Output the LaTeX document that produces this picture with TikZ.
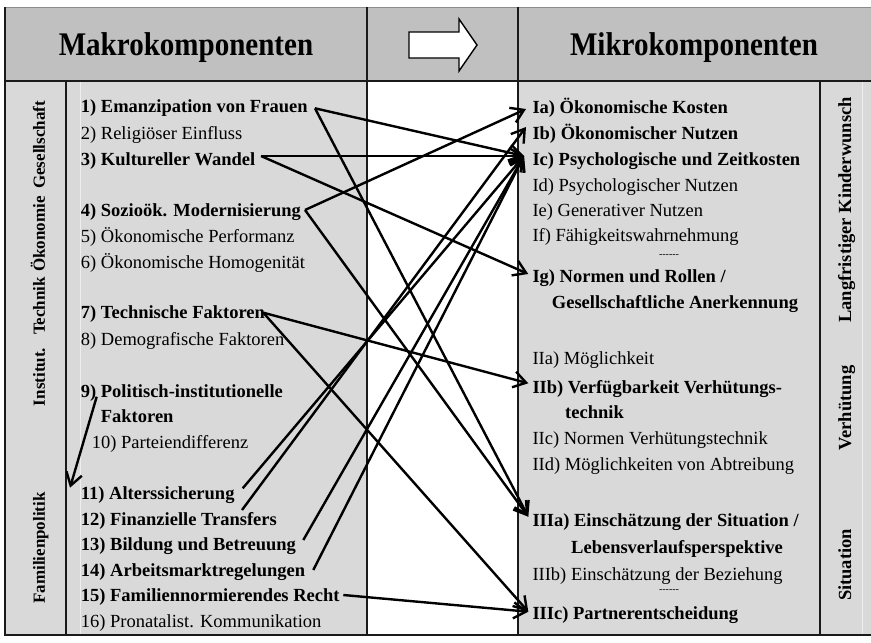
\documentclass[tikz,border=0pt]{standalone}
\usepackage{fontspec}
\usepackage{graphicx}
\setmainfont{Liberation Serif}
\usetikzlibrary{arrows.meta}
\definecolor{hdrgrey}{HTML}{C0C0C0}
\definecolor{bodygrey}{HTML}{D9D9D9}
\definecolor{ruleline}{HTML}{1A1A1A}
\begin{document}
\begin{tikzpicture}[x=1pt,y=-1pt,
  txt/.style={anchor=base west,inner sep=0pt,font=\fontsize{18.5}{20}\selectfont},
  bf/.style={anchor=base west,inner sep=0pt,font=\fontsize{18.5}{20}\selectfont\bfseries},
  side/.style={rotate=90,anchor=base,inner sep=0pt,font=\fontsize{18.5}{20}\selectfont\bfseries},
  lside/.style={side,font=\fontsize{17}{20}\selectfont\bfseries},
  head/.style={anchor=base,inner sep=0pt,font=\fontsize{33}{36}\selectfont\bfseries},
  sep/.style={inner sep=0pt,font=\fontsize{10}{10}\selectfont},
  frame/.style={line width=1.2pt,draw=ruleline},
  link/.style={line width=2.4pt,-{Straight Barb[length=12.5pt,width=16pt]}}]

% canvas and cell backgrounds
\useasboundingbox (0,0) rectangle (871,643);
\fill[hdrgrey] (5,7) rectangle (871,81);
\fill[bodygrey] (5,81) rectangle (367,635);
\fill[white] (367,81) rectangle (518,635);
\fill[bodygrey] (518,81) rectangle (871,635);
\draw[white!55!bodygrey,line width=1pt] (80,82) -- (80,634) (862,82) -- (862,634);

% table rules
\draw[black!45,line width=1pt] (5,7) -- (871,7);
\draw[frame] (5,7) -- (5,635) -- (871,635);
\draw[frame] (5,81) -- (871,81);
\draw[frame] (367,7) -- (367,635);
\draw[frame] (518,7) -- (518,635);
\draw[frame] (66,81) -- (66,635);
\draw[frame] (820,81) -- (820,635);

% header
\node[head] (makro) at (186,55) {\scalebox{0.88}[1]{Makrokomponenten}};
\node[head] (mikro) at (694,55) {\scalebox{0.88}[1]{Mikrokomponenten}};
\draw[line width=1.4pt,fill=white] (409,32) -- (459,32) -- (459,19) -- (477,45)
  -- (459,71) -- (459,58) -- (409,58) -- cycle;

% side labels, macro level
\node[lside] (lGes) at (45,145) {Gesellschaft};
\node[lside] (lOek) at (45,234) {Ökonomie};
\node[lside] (lTec) at (45,306) {Technik};
\node[lside] (lIns) at (45,377) {Institut.};
\node[lside] (lFam) at (45,548) {Familienpolitik};

% side labels, micro level
\node[side] (rLan) at (851,210) {Langfristiger Kinderwunsch};
\node[side] (rVer) at (851,408) {Verhütung};
\node[side] (rSit) at (851,565) {Situation};

% macro components
\node[bf]  (m1)  at (80.7,112.5) {1) Emanzipation von Frauen};
\node[txt] (m2)  at (80.7,139)   {2) Religiöser Einfluss};
\node[bf]  (m3)  at (80.7,165)   {3) Kultureller Wandel};
\node[bf]  (m4)  at (80.7,216.5) {4) Sozioök. Modernisierung};
\node[txt] (m5)  at (80.7,242.5) {5) Ökonomische Performanz};
\node[txt] (m6)  at (80.7,268.5) {6) Ökonomische Homogenität};
\node[bf]  (m7)  at (80.7,318.5) {7) Technische Faktoren};
\node[txt] (m8)  at (80.7,345)   {8) Demografische Faktoren};
\node[bf]  (m9)  at (80.7,397)   {9) Politisch-institutionelle};
\node[bf]  (m9b) at (100.7,422.5) {Faktoren};
\node[txt] (m10) at (91.7,448.5) {10) Parteiendifferenz};
\node[bf]  (m11) at (80.7,499.5) {11) Alterssicherung};
\node[bf]  (m12) at (80.7,525)   {12) Finanzielle Transfers};
\node[bf]  (m13) at (80.7,550.5) {13) Bildung und Betreuung};
\node[bf]  (m14) at (80.7,576)   {14) Arbeitsmarktregelungen};
\node[bf]  (m15) at (80.7,601.5) {15) Familiennormierendes Recht};
\node[txt] (m16) at (80.7,627)   {16) Pronatalist. Kommunikation};

% micro components
\node[bf]  (ia)   at (532.3,113.3) {Ia) Ökonomische Kosten};
\node[bf]  (ib)   at (532.3,139.3) {Ib) Ökonomischer Nutzen};
\node[bf]  (ic)   at (532.3,165)   {Ic) Psychologische und Zeitkosten};
\node[txt] (id)   at (532.3,191)   {Id) Psychologischer Nutzen};
\node[txt] (ie)   at (532.3,216.7) {Ie) Generativer Nutzen};
\node[txt] (if)   at (532.3,241.7) {If) Fähigkeitswahrnehmung};
\node[sep] (s1)   at (669,256)     {-{}-{}-{}-{}-{}-};
\node[bf]  (ig)   at (532.3,282.3) {Ig) Normen und Rollen /};
\node[bf]  (ig2)  at (551.7,308.3) {Gesellschaftliche Anerkennung};
\node[txt] (iia)  at (532.3,364)   {IIa) Möglichkeit};
\node[bf]  (iib)  at (532.3,393.3) {IIb) Verfügbarkeit Verhütungs-};
\node[bf]  (iib2) at (565,418.3)   {technik};
\node[txt] (iic)  at (532.3,444)   {IIc) Normen Verhütungstechnik};
\node[txt] (iid)  at (532.3,470)   {IId) Möglichkeiten von Abtreibung};
\node[bf]  (iiia) at (532.3,526.7) {IIIa) Einschätzung der Situation /};
\node[bf]  (iiia2) at (571,553.3)  {Lebensverlaufsperspektive};
\node[txt] (iiib) at (532.3,580)   {IIIb) Einschätzung der Beziehung};
\node[sep] (s2)   at (669,591)     {-{}-{}-{}-{}-{}-};
\node[bf]  (iiic) at (532.3,619.3) {IIIc) Partnerentscheidung};

% connector ends
\coordinate (m1o)  at (315,108.3);
\coordinate (m3o)  at (261,156);
\coordinate (m4o)  at (305,210);
\coordinate (m7o)  at (263.3,312.7);
\coordinate (m9o)  at (96.7,396.7);
\coordinate (famin) at (70,487.7);
\coordinate (m11o) at (242.7,488.3);
\coordinate (m12o) at (242,510);
\coordinate (m13o) at (303.3,540);
\coordinate (m14o) at (313.3,570);
\coordinate (m15o) at (343.3,595);
\coordinate (iain)   at (526,109);
\coordinate (ibin)   at (526,127);
\coordinate (icin)   at (524,156);
\coordinate (igin)   at (528.3,274);
\coordinate (iibin)  at (528.3,383.3);
\coordinate (iiiain) at (528.3,516.7);
\coordinate (iiicin) at (528.3,611.7);

% connectors
\draw[link] (m1o) -- (icin);
\draw[link] (m1o) -- (iiiain);
\draw[link] (m3o) -- (icin);
\draw[link] (m3o) -- (igin);
\draw[link] (m4o) -- (iain);
\draw[link] (m4o) -- (iiiain);
\draw[link] (m7o) -- (iibin);
\draw[link] (m7o) -- (iiicin);
\draw[link] (m9o) -- (famin);
\draw[link] (m11o) -- (icin);
\draw[link] (m12o) -- (ibin);
\draw[link] (m13o) -- (icin);
\draw[link] (m14o) -- (icin);
\draw[link] (m15o) -- (iiicin);
\end{tikzpicture}
\end{document}
